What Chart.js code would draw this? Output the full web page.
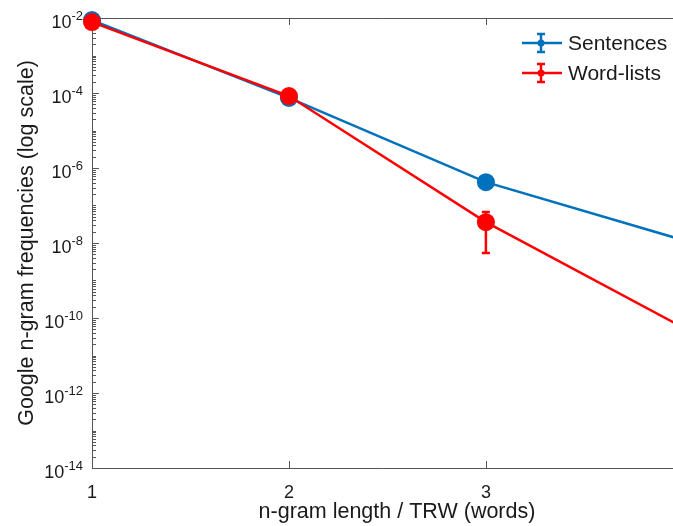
<!DOCTYPE html>
<html lang="en">
<head>
    <meta charset="UTF-8">
    <title>Google n-gram frequencies</title>
    <style>
        html, body {
            margin: 0;
            padding: 0;
            overflow: hidden;
            background-color: #ffffff;
        }
        #chartContainer {
            width: 673px;
            height: 526px;
        }
    </style>
</head>
<body>
    <div id="chartContainer">
        <canvas id="ngramChart" width="673" height="526"></canvas>
    </div>

    <script src="https://cdn.jsdelivr.net/npm/chart.js@4.4.3/dist/chart.umd.min.js"></script>

    <script>
        // data (x = n-gram length)
        const ngramLengths = [1, 2, 3, 4];
        const sentences = [8.8e-3, 7.4e-5, 4.2e-7, 1.2e-8];
        const wordLists = [7.8e-3, 8.3e-5, 3.6e-8, 5.6e-11];
        const wordListsErrLow = [null, null, 5.4e-9, null];
        const wordListsErrHigh = [null, null, 6.7e-8, null];
        const markerSizes = [9, 9, 9, 0];

        const seriesNames = ['Sentences', 'Word-lists'];
        const seriesColors = ['#0072BD', '#FF0000'];
        const xTickLabels = ['1', '2', '3'];
        const yTickExponents = [-14, -12, -10, -8, -6, -4, -2];
        const xTitle = 'n-gram length / TRW (words)';
        const yTitle = 'Google n-gram frequencies (log scale)';

        const FONT = "'Liberation Sans', Arial, Helvetica, sans-serif";
        const TEXT = '#1a1a1a';
        const AXIS = '#555555';

        Chart.defaults.font.family = FONT;
        Chart.defaults.color = TEXT;

        const toPoints = vals => vals.map((v, i) => ({ x: ngramLengths[i], y: v }));

        // matlab-ish box, inward ticks and tick labels
        const axesPlugin = {
            id: 'matlabAxes',
            beforeDatasetsDraw(chart) {
                const { ctx, chartArea: a, scales: { x, y } } = chart;
                ctx.save();
                ctx.strokeStyle = AXIS;
                ctx.lineWidth = 1;
                ctx.beginPath();
                ctx.moveTo(a.right, a.top + 0.5);
                ctx.lineTo(a.left + 0.5, a.top + 0.5);
                ctx.lineTo(a.left + 0.5, a.bottom + 0.5);
                ctx.lineTo(a.right, a.bottom + 0.5);

                // y ticks, major and minor
                for (let e = yTickExponents[0]; e < yTickExponents[yTickExponents.length - 1]; e++) {
                    for (let m = 1; m < 10; m++) {
                        const py = Math.round(y.getPixelForValue(m * Math.pow(10, e))) + 0.5;
                        const len = (m === 1 && yTickExponents.includes(e)) ? 7 : 4;
                        ctx.moveTo(a.left, py); ctx.lineTo(a.left + len, py);
                    }
                }
                // x ticks
                xTickLabels.forEach((_, i) => {
                    const px = Math.round(x.getPixelForValue(ngramLengths[i])) + 0.5;
                    ctx.moveTo(px, a.bottom); ctx.lineTo(px, a.bottom - 7);
                    ctx.moveTo(px, a.top); ctx.lineTo(px, a.top + 7);
                });
                ctx.stroke();

                ctx.fillStyle = TEXT;
                ctx.textBaseline = 'middle';
                // x tick labels
                ctx.font = '18px ' + FONT;
                ctx.textAlign = 'center';
                xTickLabels.forEach((lab, i) => {
                    ctx.fillText(lab, x.getPixelForValue(ngramLengths[i]), a.bottom + 25);
                });

                // y tick labels with superscript exponent
                yTickExponents.forEach(e => {
                    const py = y.getPixelForValue(Math.pow(10, e));
                    const right = a.left - 9;
                    ctx.font = '13px ' + FONT;
                    const expText = String(e);
                    const expW = ctx.measureText(expText).width;
                    ctx.textAlign = 'left';
                    ctx.fillText(expText, right - expW, py - 2);
                    ctx.font = '18px ' + FONT;
                    ctx.textAlign = 'right';
                    ctx.fillText('10', right - expW, py + 5);
                });

                // x axis title
                ctx.font = '21.5px ' + FONT;
                ctx.textAlign = 'center';
                ctx.fillText(xTitle, 397, 512);
                ctx.restore();
            },
            afterDatasetsDraw(chart) {
                const { ctx, scales: { x, y } } = chart;
                ctx.save();
                ctx.lineWidth = 2.5;
                ctx.strokeStyle = seriesColors[1];
                // error bars on word-lists
                wordListsErrLow.forEach((lo, i) => {
                    if (lo === null) return;
                    const px = x.getPixelForValue(ngramLengths[i]);
                    const pTop = y.getPixelForValue(wordListsErrHigh[i]);
                    const pBot = y.getPixelForValue(lo);
                    ctx.beginPath();
                    ctx.moveTo(px, pTop); ctx.lineTo(px, pBot);
                    ctx.moveTo(px - 4, pTop); ctx.lineTo(px + 4, pTop);
                    ctx.moveTo(px - 4, pBot); ctx.lineTo(px + 4, pBot);
                    ctx.stroke();
                });

                // legend
                const rows = [43, 73];
                seriesNames.forEach((name, i) => {
                    const cy = rows[i];
                    ctx.strokeStyle = seriesColors[i];
                    ctx.fillStyle = seriesColors[i];
                    ctx.lineWidth = 2.5;
                    ctx.beginPath();
                    ctx.moveTo(522, cy); ctx.lineTo(562, cy);
                    ctx.moveTo(541, cy - 9); ctx.lineTo(541, cy + 9);
                    ctx.moveTo(537, cy - 9); ctx.lineTo(545, cy - 9);
                    ctx.moveTo(537, cy + 9); ctx.lineTo(545, cy + 9);
                    ctx.stroke();
                    ctx.beginPath();
                    ctx.arc(541, cy, 3.5, 0, Math.PI * 2);
                    ctx.fill();
                    ctx.fillStyle = TEXT;
                    ctx.font = '21px ' + FONT;
                    ctx.textAlign = 'left';
                    ctx.textBaseline = 'middle';
                    ctx.fillText(name, 568, cy + 1);
                });
                ctx.restore();
            }
        };

        const config = {
            type: 'line',
            data: {
                datasets: [{
                    label: seriesNames[0],
                    data: toPoints(sentences),
                    borderColor: seriesColors[0],
                    backgroundColor: seriesColors[0],
                    borderWidth: 2.5,
                    pointRadius: markerSizes,
                    pointBorderWidth: 0,
                    tension: 0,
                    clip: false,
                    order: 2
                }, {
                    label: seriesNames[1],
                    data: toPoints(wordLists),
                    borderColor: seriesColors[1],
                    backgroundColor: seriesColors[1],
                    borderWidth: 2.5,
                    pointRadius: markerSizes,
                    pointBorderWidth: 0,
                    tension: 0,
                    clip: false,
                    order: 1
                }]
            },
            options: {
                responsive: false,
                animation: false,
                layout: { autoPadding: false, padding: { top: 18, right: 0, bottom: 0, left: 0 } },
                scales: {
                    x: {
                        type: 'linear',
                        min: 1,
                        max: 3.95,
                        afterFit: scale => { scale.height = 58; },
                        grid: { display: false, drawTicks: false },
                        border: { display: false },
                        ticks: { display: false },
                        title: { display: false }
                    },
                    y: {
                        type: 'logarithmic',
                        min: 1e-14,
                        max: 1e-2,
                        afterFit: scale => { scale.width = 92; },
                        grid: { display: false, drawTicks: false },
                        border: { display: false },
                        ticks: { display: false },
                        title: {
                            display: true,
                            text: yTitle,
                            font: { size: 21.5 },
                            padding: { top: 14, bottom: 0 }
                        }
                    }
                },
                plugins: {
                    legend: { display: false },
                    tooltip: { enabled: false }
                }
            },
            plugins: [axesPlugin]
        };

        const ctx = document.getElementById('ngramChart').getContext('2d');
        new Chart(ctx, config);
    </script>
</body>
</html>
